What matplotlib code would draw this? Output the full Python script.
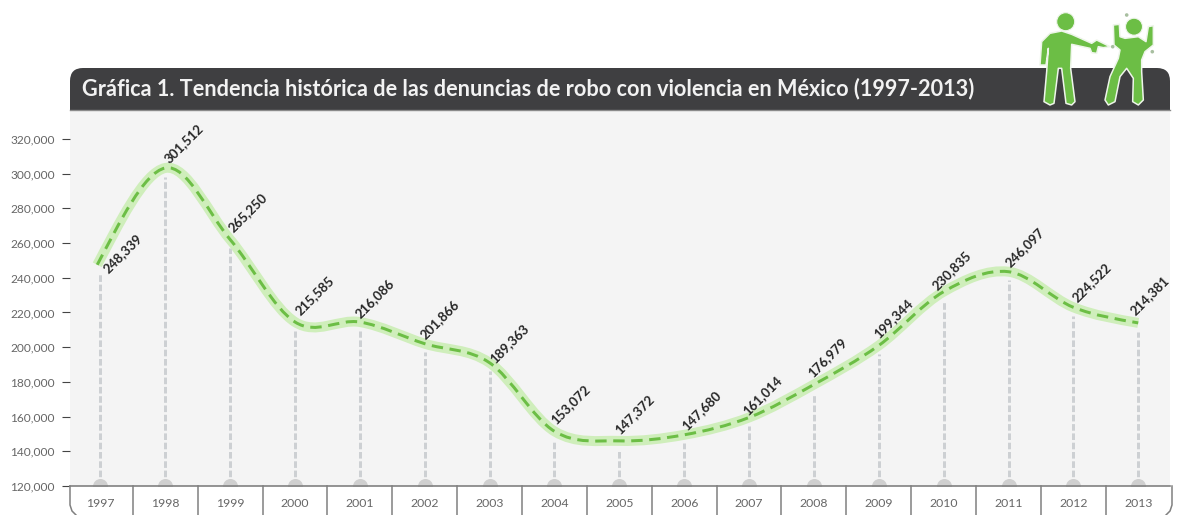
import matplotlib
matplotlib.use("Agg")
import matplotlib.pyplot as plt
from matplotlib.path import Path
from matplotlib.patches import PathPatch, Circle, Polygon, FancyBboxPatch

plt.rcParams["font.family"] = ["Lato", "DejaVu Sans"]

years = [1997, 1998, 1999, 2000, 2001, 2002, 2003, 2004, 2005,
         2006, 2007, 2008, 2009, 2010, 2011, 2012, 2013]
# numbers printed on the chart
denuncias = [248339, 301512, 265250, 215585, 216086, 201866, 189363, 153072, 147372,
             147680, 161014, 176979, 199344, 230835, 246097, 224522, 214381]
# where the drawn curve really passes, a bit different from the printed numbers
curva = [247500, 303300, 262000, 214500, 214500, 202000, 191000, 151500, 146000,
         149500, 159500, 178500, 201000, 232000, 243500, 223000, 214000]
yticks = [120000, 140000, 160000, 180000, 200000, 220000, 240000, 260000, 280000, 300000, 320000]
titulo = "Gráfica 1. Tendencia histórica de las denuncias de robo con violencia en México (1997-2013)"

# label centre relative to the point, in pixels
label_dx = [22, 18, 17, 20, 15, 15, 20, 16, 15, 17, 13, 13, 15, 8, 16, 18, 11]
label_dy = [10, 28, 21, 25, 21, 24, 22, 24, 24, 28, 19, 30, 30, 23, 20, 22, 27]

GREEN = "#6cbe45"
HALO = "#cfeebb"
DARK = "#3f3f41"
GREY = "#cdd0d3"
px = 0.72  # one pixel in points

fig = plt.figure(figsize=(11.78, 5.15), dpi=100, facecolor="white")

# header goes behind the plot area, its lower corners are hidden there
back = fig.add_axes([0, 0, 1, 1], facecolor="none")
back.set_xlim(0, 1178)
back.set_ylim(515, 0)
back.axis("off")
back.add_patch(FancyBboxPatch((70, 68), 1100, 70, boxstyle="round,pad=0,rounding_size=13", fc=DARK, ec="none"))
back.text(82, 89, titulo, color="#f2f2f2", fontsize=15.6, fontweight="bold", va="center", ha="left")

# plot area
ax = fig.add_axes([70 / 1178, 1 - 486 / 515, 1100 / 1178, 376 / 515])
ax.set_facecolor("#f4f4f4")
ax.set_xlim(1996.53, 2013.49)
ax.set_ylim(120000, 336700)

ax.vlines(years, 120000, [c - 5000 for c in curva], color=GREY, lw=3 * px, linestyles=(0, (2.2, 0.9)), zorder=1)
ax.scatter(years, [120000] * len(years), s=(15 * px) ** 2, color="#cfcfcf", lw=0, zorder=1)

# smooth curve, bezier segments through the points
curva_x = [1996.95] + years[1:]
verts = [(curva_x[0], curva[0])]
codes = [Path.MOVETO]
for i in range(len(years) - 1):
    if i == 0:
        c1 = curva[0] + (curva[1] - curva[0]) * 0.42
    else:
        c1 = curva[i] + (curva[i + 1] - curva[i - 1]) / 6
    if i == len(years) - 2:
        c2 = curva[i + 1] - (curva[i + 1] - curva[i]) * 0.25
    else:
        c2 = curva[i + 1] - (curva[i + 2] - curva[i]) / 6
    verts.append((curva_x[i] + 1 / 3, c1))
    verts.append((curva_x[i + 1] - 1 / 3, c2))
    verts.append((curva_x[i + 1], curva[i + 1]))
    codes += [Path.CURVE4] * 3
linea = Path(verts, codes)
ax.add_patch(PathPatch(linea, fc="none", ec=HALO, lw=10 * px, capstyle="butt", zorder=2))
ax.add_patch(PathPatch(linea, fc="none", ec=GREEN, lw=3 * px, linestyle=(0, (3.8, 2.2)), capstyle="butt", zorder=3))

for i in range(len(years)):
    ax.annotate(f"{denuncias[i]:,}", (years[i], denuncias[i]),
                xytext=(label_dx[i] * px, label_dy[i] * px), textcoords="offset points",
                rotation=45, rotation_mode="anchor", ha="center", va="center",
                fontsize=9.5, fontweight="bold", color="#262626", zorder=5, annotation_clip=False)

ax.set_yticks(yticks)
ax.set_yticklabels([f"{v:,}" for v in yticks], fontsize=8.6, color="#666666")
ax.tick_params(axis="y", length=8 * px, width=0.8, color="#444444", pad=7 * px)
ax.set_xticks(years)
ax.set_xticklabels(years, fontsize=8.8, color="#666666")
ax.tick_params(axis="x", length=0, pad=12 * px)
for s in ["top", "left", "right"]:
    ax.spines[s].set_visible(False)
ax.spines["bottom"].set_color("#808080")
ax.spines["bottom"].set_linewidth(1.2)

# overlay in pixels for year boxes and icons
ov = fig.add_axes([0, 0, 1, 1], facecolor="none")
ov.set_xlim(0, 1178)
ov.set_ylim(515, 0)
ov.axis("off")
ov.plot([70, 1170], [110, 110], color="#8a8a8a", lw=1)

for i in range(len(years) - 1):
    xd = ax.transData.transform((years[i] + 0.5, 120000))[0]
    ov.plot([xd, xd], [486, 515], color="#808080", lw=1.1)
ov.plot([70, 70, 72, 76], [486, 505, 511, 515], color="#808080", lw=1.1)
ov.plot([1172, 1172, 1170, 1166], [486, 505, 511, 515], color="#808080", lw=1.1)


def icon(pts):
    # outline traced on a 3x crop starting at (1030, 5)
    xy = [(1030 + p[0] / 3, 5 + p[1] / 3) for p in pts]
    ov.add_patch(Polygon(xy, fc=GREEN, ec="#eef5ea", lw=1.1, joinstyle="round", zorder=5))


# shooter
icon([(95, 78), (125, 88), (185, 115), (200, 105), (240, 125), (220, 128), (205, 125), (200, 145),
      (185, 143), (180, 130), (125, 118), (122, 190), (135, 290), (125, 300), (108, 295), (95, 190),
      (85, 190), (72, 295), (60, 300), (42, 290), (50, 200), (55, 130), (48, 180), (30, 180), (35, 110), (60, 85)])
ov.add_patch(Circle((1065.7, 21.7), 9, fc=GREEN, ec="#eef5ea", lw=0.8, zorder=5))
# victim
icon([(250, 60), (268, 58), (270, 95), (285, 100), (325, 95), (348, 110), (355, 65), (370, 62), (370, 120),
      (345, 140), (335, 165), (335, 200), (340, 285), (325, 300), (308, 290), (310, 220), (290, 190),
      (270, 215), (255, 290), (235, 300), (225, 285), (240, 215), (265, 160), (270, 135), (252, 120)])
ov.add_patch(Circle((1134, 26.7), 8.5, fc=GREEN, ec="#eef5ea", lw=0.8, zorder=5))
for c in [(1126.7, 15), (1112.7, 46.7), (1152.3, 51.7)]:
    ov.add_patch(Circle(c, 1.8, fc="#a8bfa0", ec="none", zorder=5))

fig.savefig("out.png", dpi=100)
